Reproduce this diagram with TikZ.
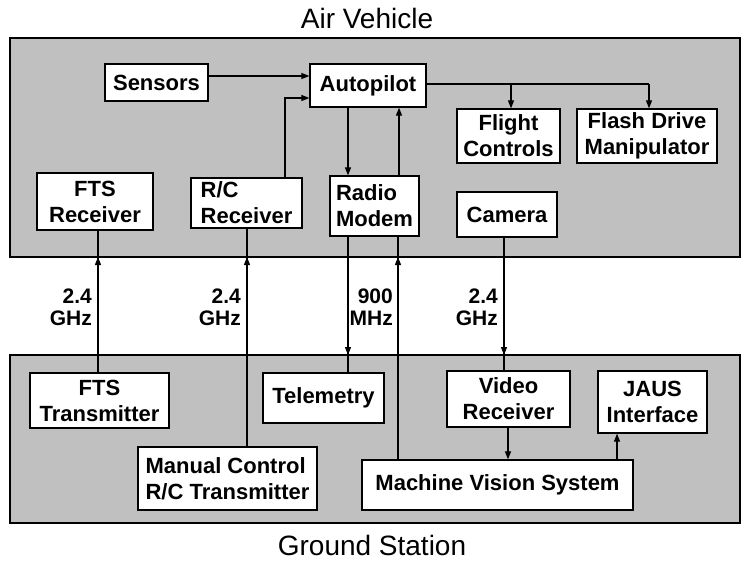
\documentclass[tikz,border=0pt]{standalone}
\usepackage{fontspec}
\setmainfont{Liberation Sans}
\usetikzlibrary{arrows.meta}
\tikzset{
  panel/.style={draw=black, fill=panelgray, line width=2.6pt},
  blk/.style={draw=black, fill=white, line width=1.3pt, inner sep=0pt,
    font=\bfseries\fontsize{22}{26}\selectfont, align=center},
  conn/.style={line width=1.2pt},
  arr/.style={line width=1.2pt, -{Triangle[length=8pt,width=6pt]}},
  freq/.style={font=\bfseries\fontsize{21}{22}\selectfont, align=right, anchor=east, inner sep=0pt},
  title/.style={font=\fontsize{28}{30}\selectfont}
}
\definecolor{panelgray}{RGB}{192,192,192}
\begin{document}
\begin{tikzpicture}[x=1pt,y=-1pt]
\useasboundingbox (0,0) rectangle (743,563);
% panels
\draw[panel] (10,38) rectangle (740,257);
\coordinate (avbot) at (0,257);
\coordinate (gstop) at (0,355);
\draw[panel] (10,355) rectangle (740,523);
\node[title] (avt) at (367,18) {Air Vehicle};
\node[title] (gst) at (372,545) {Ground Station};

% air vehicle blocks
\node[blk, minimum width=103, minimum height=37] (sens) at (156.5,82.5) {Sensors};
\node[blk, minimum width=116, minimum height=43] (ap) at (368,85.5) {Autopilot};
\node[blk, minimum width=116, minimum height=57] (ftsr) at (95,201.5) {FTS\\Receiver};
\node[blk, minimum width=111, minimum height=50, align=left] (rcr) at (246.5,203) {R/C\\Receiver};
\node[blk, minimum width=89, minimum height=60, align=left] (rm) at (374.5,206) {Radio\\Modem};
\node[blk, minimum width=103, minimum height=54] (fc) at (508.5,136) {Flight\\Controls};
\node[blk, minimum width=140, minimum height=54] (fd) at (647,136) {Flash Drive\\Manipulator};
\node[blk, minimum width=100, minimum height=45] (cam) at (507,214.5) {Camera};

% ground station blocks
\node[blk, minimum width=139, minimum height=55] (ftst) at (99.5,400.5) {FTS\\Transmitter};
\node[blk, minimum width=121, minimum height=50] (tel) at (323.5,398) {Telemetry};
\node[blk, minimum width=179, minimum height=63, align=left] (mc) at (227.5,478.5) {Manual Control\\R/C Transmitter};
\node[blk, minimum width=271, minimum height=50] (mvs) at (497.5,485) {Machine Vision System};
\node[blk, minimum width=123, minimum height=56] (vr) at (508.5,399) {Video\\Receiver};
\node[blk, minimum width=109, minimum height=62] (jaus) at (652.5,402) {JAUS\\Interface};

% air vehicle connectors
\draw[arr] (sens.east |- 0,76) -- (ap.west |- 0,76);
\coordinate (rcbend) at (285,98);
\draw[arr] (rcr.north -| rcbend) -- (rcbend) -- (ap.west |- rcbend);
\draw[arr] (ap.south -| 348,0) -- (rm.north -| 348,0);
\draw[arr] (rm.north -| 399,0) -- (ap.south -| 399,0);
\coordinate (apj) at (649,84);
\draw[conn] (ap.east |- apj) -- (apj);
\draw[arr] (511,84) -- (fc.north -| 511,0);
\draw[arr] (apj) -- (fd.north -| apj);

% radio links
\draw[conn] (ftst.north -| 98,0) -- (ftsr.south -| 98,0);
\draw[arr] (ftst.north -| 98,0) -- (avbot -| 98,0);
\draw[conn] (mc.north -| 247,0) -- (rcr.south -| 247,0);
\draw[arr] (mc.north -| 247,0) -- (avbot -| 247,0);
\draw[conn] (rm.south -| 348,0) -- (tel.north -| 348,0);
\draw[arr] (rm.south -| 348,0) -- (gstop -| 348,0);
\draw[conn] (mvs.north -| 398,0) -- (rm.south -| 398,0);
\draw[arr] (mvs.north -| 398,0) -- (avbot -| 398,0);
\draw[conn] (cam.south -| 504,0) -- (vr.north -| 504,0);
\draw[arr] (cam.south -| 504,0) -- (gstop -| 504,0);

% ground connectors
\draw[arr] (vr.south -| 508,0) -- (mvs.north -| 508,0);
\draw[arr] (mvs.north -| 617,0) -- (jaus.south -| 617,0);

% frequency labels
\node[freq] (f1) at (92,307) {2.4\\GHz};
\node[freq] (f2) at (241,307) {2.4\\GHz};
\node[freq] (f3) at (393,307) {900\\MHz};
\node[freq] (f4) at (498,307) {2.4\\GHz};
\end{tikzpicture}
\end{document}
